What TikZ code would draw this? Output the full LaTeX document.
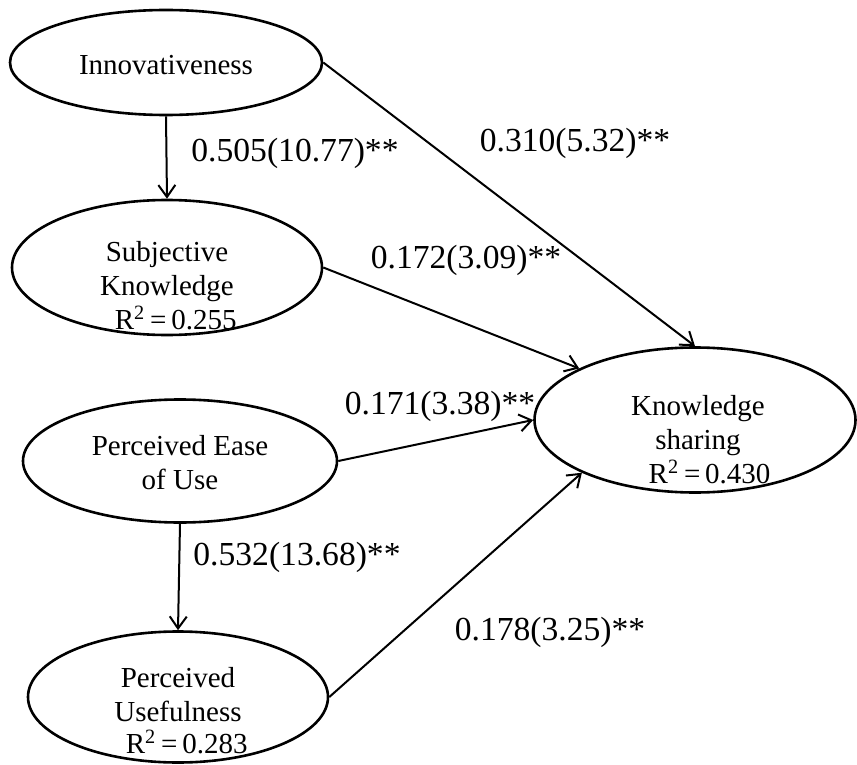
\documentclass[tikz,border=0pt]{standalone}
\usepackage{fontspec}
\setmainfont{Liberation Serif}
\usetikzlibrary{shapes.geometric, arrows.meta}
\tikzset{
  construct/.style={ellipse, draw=black, line width=1.3pt, inner sep=0pt},
  ctext/.style={align=center, font=\fontsize{14.5}{17}\selectfont, inner sep=0pt},
  coef/.style={font=\fontsize{16.8}{20}\selectfont, inner sep=0pt},
  effect/.style={-{Straight Barb[length=6pt,width=8.5pt]}, line width=1pt}
}
\begin{document}
\begin{tikzpicture}[x=0.5pt, y=-0.5pt]
\useasboundingbox (0,0) rectangle (857,765);
% constructs
\node[construct, minimum width=156pt, minimum height=52.5pt] (innov) at (166,62.5) {};
\node[construct, minimum width=155pt, minimum height=67.5pt] (subj) at (167,267.5) {};
\node[construct, minimum width=157pt, minimum height=61.5pt] (peou) at (180,461) {};
\node[construct, minimum width=150pt, minimum height=65.5pt] (pu) at (178,697) {};
\node[construct, minimum width=160.5pt, minimum height=72.5pt] (ks) at (695,420) {};
% construct names
\node[ctext] (innovtxt) at (166,65) {Innovativeness};
\node[ctext] (subjtxt) at (167,286) {Subjective\\Knowledge\\\hspace*{0.6em}R\textsuperscript{2}\,=\,0.255};
\node[ctext] (peoutxt) at (180,463) {Perceived Ease\\of Use};
\node[ctext] (putxt) at (178,711) {Perceived\\Usefulness\\[-1pt]\hspace*{0.6em}R\textsuperscript{2}\,=\,0.283};
\node[ctext] (kstxt) at (698,440) {Knowledge\\sharing\\\hspace*{0.8em}R\textsuperscript{2}\,=\,0.430};
% paths
\draw[effect] (innov.south) -- (subj.north);
\draw[effect] (innov.east) -- (ks.north);
\draw[effect] (subj.east) -- (ks.156);
\draw[effect] (peou.east) -- (ks.west);
\draw[effect] (pu.east) -- (ks.205);
\draw[effect] (peou.south) -- (pu.north);
% coefficients
\node[coef] (c1) at (295,153) {0.505(10.77)**};
\node[coef] (c2) at (575,143) {0.310(5.32)**};
\node[coef] (c3) at (466,260) {0.172(3.09)**};
\node[coef] (c4) at (440,406) {0.171(3.38)**};
\node[coef] (c5) at (297,557) {0.532(13.68)**};
\node[coef] (c6) at (550,632) {0.178(3.25)**};
\end{tikzpicture}
\end{document}
